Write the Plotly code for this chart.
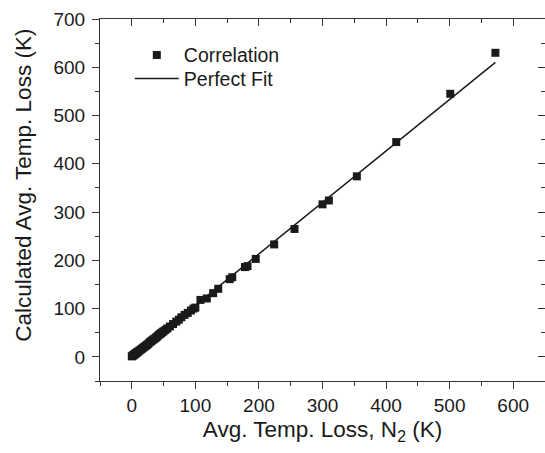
import plotly.graph_objects as go

# Correlation data (x: measured avg temp loss N2, y: calculated)
corr_x = [0, 1, 2, 3, 4, 5, 6, 7, 8, 9, 10, 12, 14, 16, 18, 20, 22, 24, 26, 28,
          30, 32, 34, 36, 38, 40, 42, 44, 46, 48, 50, 53, 56, 60, 65, 70, 74, 78,
          83, 88, 93, 97, 100, 108, 118, 128, 136, 154, 158, 178, 182, 195, 224,
          256, 300, 310, 354, 416, 501, 572]
corr_y = [1, 2, 3, 4, 5, 6, 7, 8, 9, 10, 11, 13, 15, 17, 19, 21, 23, 25, 27, 30,
          32, 34, 36, 38, 40, 42, 45, 47, 49, 51, 53, 56, 59, 63, 68, 73, 77, 82,
          87, 91, 96, 100, 102, 118, 121, 132, 141, 161, 165, 186, 188, 203, 233,
          265, 316, 324, 374, 445, 545, 630]

# Perfect fit line endpoints
fit_x = [0, 572]
fit_y = [0, 610]

x_range = [-50, 650]
y_range = [-50, 700]

FONT = "Liberation Sans, Arial, sans-serif"
TICK_FS = 19
TITLE_FS = 22.5
LEG_FS = 19.5
INK = "#1a1a1a"

fig = go.Figure()
fig.add_trace(go.Scatter(x=corr_x, y=corr_y, mode="markers", name="Correlation",
                         marker=dict(symbol="square", size=8, color=INK),
                         legend="legend"))
fig.add_trace(go.Scatter(x=fit_x, y=fit_y, mode="lines", name="Perfect Fit",
                         line=dict(color=INK, width=1.5), legend="legend2"))

axis_common = dict(showgrid=False, zeroline=False, showline=True, linecolor="#333",
                   linewidth=1.2, tickcolor="#333", tickwidth=1.2,
                   tickfont=dict(family=FONT, size=TICK_FS, color=INK))

legend_common = dict(xanchor="left", yanchor="middle", bgcolor="rgba(0,0,0,0)",
                     font=dict(family=FONT, size=LEG_FS, color=INK), itemwidth=44)

fig.update_layout(
    width=545, height=453,
    margin=dict(l=100, r=0, t=19, b=71.5),
    paper_bgcolor="white", plot_bgcolor="white",
    font=dict(family=FONT, size=TICK_FS, color=INK),
    xaxis=dict(range=x_range, dtick=100, tick0=0, ticks="outside", ticklen=7,
               minor=dict(dtick=50, tick0=0, ticks="outside", ticklen=4,
                          tickcolor="#333", tickwidth=1.2),
               title=dict(text="Avg. Temp. Loss, N<sub>2</sub> (K)",
                          font=dict(family=FONT, size=TITLE_FS, color=INK), standoff=6),
               **axis_common),
    yaxis=dict(range=y_range, dtick=100, tick0=0, ticks="outside", ticklen=7,
               ticklabelstandoff=3,
               minor=dict(dtick=50, tick0=0, ticks="outside", ticklen=4,
                          tickcolor="#333", tickwidth=1.2),
               **axis_common),
    xaxis2=dict(range=x_range, overlaying="x", side="top", dtick=100, tick0=0,
                ticks="inside", ticklen=7, showticklabels=False,
                minor=dict(dtick=50, tick0=0, ticks="inside", ticklen=4,
                           tickcolor="#333", tickwidth=1.2),
                **axis_common),
    yaxis2=dict(range=y_range, overlaying="y", side="right", dtick=100, tick0=0,
                ticks="inside", ticklen=7, showticklabels=False,
                minor=dict(dtick=50, tick0=0, ticks="inside", ticklen=4,
                           tickcolor="#333", tickwidth=1.2),
                **axis_common),
    legend=dict(x=0.067, y=0.90, **legend_common),
    legend2=dict(x=0.067, y=0.835, **legend_common),
    showlegend=True,
    annotations=[dict(text="Calculated Avg. Temp. Loss (K)", textangle=-90,
                      xref="paper", yref="paper", x=-0.171, y=0.542,
                      xanchor="center", yanchor="middle", showarrow=False,
                      font=dict(family=FONT, size=TITLE_FS, color=INK))],
)

# invisible trace on secondary axes so they render
fig.add_trace(go.Scatter(x=[None], y=[None], xaxis="x2", yaxis="y2",
                         showlegend=False, hoverinfo="skip"))

fig.write_html("out.html")
